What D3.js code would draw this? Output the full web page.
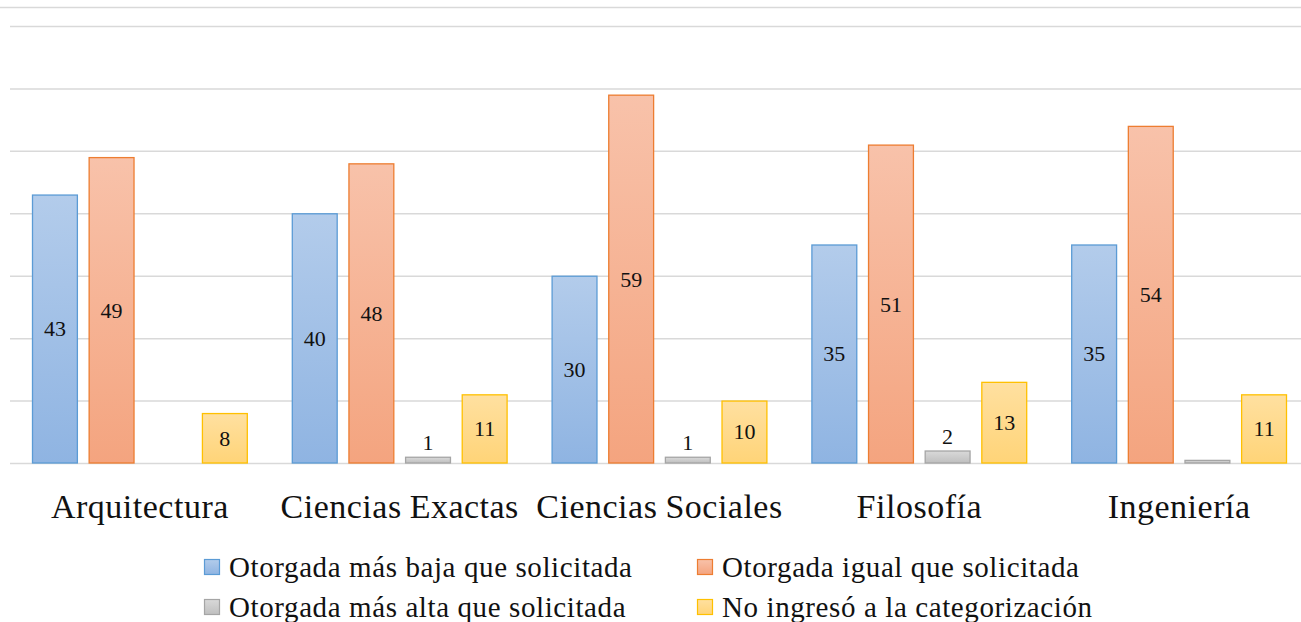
<!DOCTYPE html>
<html>
<head>
<meta charset="utf-8">
<script src="https://cdn.jsdelivr.net/npm/d3@7"></script>
<style>
  html, body { margin: 0; padding: 0; background: #fff; }
  svg { display: block; }
  text { font-family: "Liberation Serif", "DejaVu Serif", serif; fill: #111; }
</style>
</head>
<body>
<svg id="chart" width="1301" height="622"></svg>
<script>
// Categorías (facultades)
const categories = ["Arquitectura", "Ciencias Exactas", "Ciencias Sociales", "Filosofía", "Ingeniería"];

// Series
const seriesNames = [
  "Otorgada más baja que solicitada",
  "Otorgada igual que solicitada",
  "Otorgada más alta que solicitada",
  "No ingresó a la categorización"
];
const masBaja  = [43, 40, 30, 35, 35];
const igual    = [49, 48, 59, 51, 54];
const masAlta  = [0, 1, 1, 2, 0.5];
const noIngreso = [8, 11, 10, 13, 11];

// Etiquetas visibles (null = sin etiqueta)
const labelsMasAlta = [null, "1", "1", "2", null];

const yTicks = [0, 10, 20, 30, 40, 50, 60, 70];

const seriesValues = [masBaja, igual, masAlta, noIngreso];
const seriesLabels = [
  masBaja.map(String),
  igual.map(String),
  labelsMasAlta,
  noIngreso.map(String)
];

const palette = [
  { top: "#b3cceb", bottom: "#8fb4e2", stroke: "#5b9bd5" },
  { top: "#f8c2aa", bottom: "#f4a47f", stroke: "#ed7d31" },
  { top: "#d9d9d9", bottom: "#bfbfbf", stroke: "#a5a5a5" },
  { top: "#ffe0a0", bottom: "#ffd478", stroke: "#ffc000" }
];

const svg = d3.select("#chart");
const plot = { left: 10, right: 1309, top: 26, bottom: 463 };

const x0 = d3.scaleBand().domain(categories).range([plot.left, plot.right]).paddingInner(0).paddingOuter(0);
const x1 = d3.scaleBand().domain(d3.range(4)).range([22, x0.bandwidth() - 22]).paddingInner(0.19).paddingOuter(0);
const y = d3.scaleLinear().domain([0, 70]).range([plot.bottom, plot.top]);

// Gradientes
const defs = svg.append("defs");
palette.forEach((p, i) => {
  const g = defs.append("linearGradient").attr("id", "grad" + i)
    .attr("x1", 0).attr("y1", 0).attr("x2", 0).attr("y2", 1);
  g.append("stop").attr("offset", "0%").attr("stop-color", p.top);
  g.append("stop").attr("offset", "100%").attr("stop-color", p.bottom);
});

// Marco superior
svg.append("line").attr("x1", 0).attr("x2", 1301).attr("y1", 7.5).attr("y2", 7.5)
  .attr("stroke", "#d9d9d9").attr("stroke-width", 1.5);

// Líneas de cuadrícula
const yAxis = d3.axisLeft(y).tickValues(yTicks).tickSize(-(plot.right - plot.left)).tickFormat("");
const ga = svg.append("g").attr("transform", `translate(${plot.left},0)`).call(yAxis);
ga.select(".domain").remove();
ga.selectAll(".tick line").attr("stroke", "#d9d9d9").attr("stroke-width", 1.5);

// Barras
const groups = svg.append("g").selectAll("g").data(categories).join("g")
  .attr("transform", d => `translate(${x0(d)},0)`);

seriesValues.forEach((vals, si) => {
  groups.each(function (cat, ci) {
    const v = vals[ci];
    if (!v) return;
    const g = d3.select(this);
    const bx = x1(si), bw = x1.bandwidth();
    g.append("rect")
      .attr("x", bx + 0.5).attr("y", y(v) + 0.5)
      .attr("width", bw - 1).attr("height", Math.max(0, y(0) - y(v) - 0.5))
      .attr("fill", `url(#grad${si})`)
      .attr("stroke", palette[si].stroke).attr("stroke-width", 1.3);
    const lab = seriesLabels[si][ci];
    if (lab) {
      const outside = si === 2;
      g.append("text")
        .attr("x", bx + bw / 2)
        .attr("y", outside ? y(v) - 7 : (y(v) + y(0)) / 2)
        .attr("dy", outside ? 0 : "0.35em")
        .attr("text-anchor", "middle")
        .attr("font-size", 22)
        .text(lab);
    }
  });
});

// Eje de categorías
const xAxis = d3.axisBottom(x0).tickSize(0).tickPadding(0);
const gx = svg.append("g").attr("transform", `translate(0,${plot.bottom})`).call(xAxis);
gx.select(".domain").remove();
gx.selectAll(".tick text")
  .attr("y", 55).attr("dy", 0)
  .attr("font-size", 34)
  .attr("letter-spacing", 0.5)
  .attr("word-spacing", -1)
  .attr("font-family", "Liberation Serif, serif")
  .attr("fill", "#111");

// Leyenda
const legendPos = [
  { x: 204, y: 567 }, { x: 697, y: 567 },
  { x: 204, y: 607 }, { x: 697, y: 607 }
];
const legend = svg.append("g").selectAll("g").data(seriesNames).join("g")
  .attr("transform", (d, i) => `translate(${legendPos[i].x},${legendPos[i].y})`);
legend.append("rect")
  .attr("x", 0.5).attr("y", -7.5).attr("width", 15).attr("height", 15)
  .attr("fill", (d, i) => `url(#grad${i})`)
  .attr("stroke", (d, i) => palette[i].stroke).attr("stroke-width", 1.2);
legend.append("text")
  .attr("x", 25).attr("y", 0).attr("dy", "0.35em")
  .attr("font-size", 29)
  .attr("letter-spacing", 0.6)
  .text(d => d);
</script>
</body>
</html>
